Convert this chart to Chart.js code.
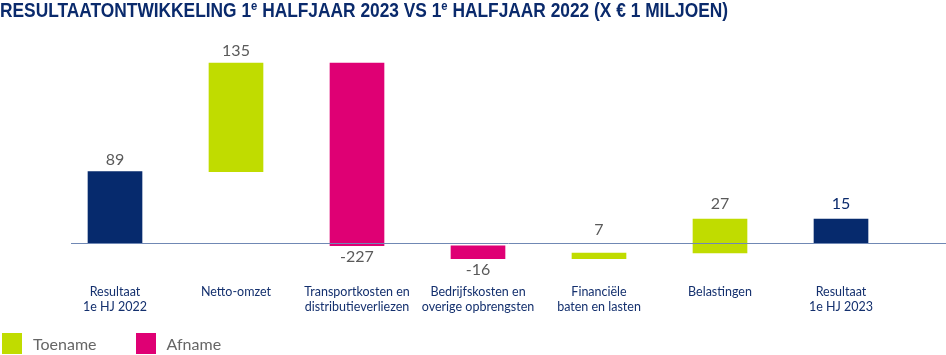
<!DOCTYPE html>
<html>
<head>
<meta charset="utf-8">
<script src="https://cdn.jsdelivr.net/npm/chart.js@4"></script>
<style>
  html, body { margin: 0; padding: 0; background: #fff; }
  #wrap { position: relative; width: 946px; height: 355px; overflow: hidden; }
  #title { position: absolute; left: 0; top: -2px; white-space: nowrap; font-family: "Liberation Sans Narrow", "Liberation Sans", Arial, sans-serif; font-weight: bold; font-size: 20px; color: #0a2a6c; transform-origin: 0 0; line-height: 24px; }
  #title sup { font-size: 13px; vertical-align: 0; position: relative; top: -7px; }
  #legend { position: absolute; left: 2px; top: 333px; font-family: Lato, "Open Sans", sans-serif; font-size: 16px; color: #666; display: flex; }
  .item { display: flex; align-items: center; margin-right: 39px; }
  .box { width: 20px; height: 21px; margin-right: 11px; }
</style>
</head>
<body>
<div id="wrap">
  <canvas id="c" width="946" height="355"></canvas>
  <div id="title">RESULTAATONTWIKKELING 1<sup>e</sup> HALFJAAR 2023 VS 1<sup>e</sup> HALFJAAR 2022 (X € 1 MILJOEN)</div>
  <div id="legend"></div>
</div>
<script>
const categories = [
  ['Resultaat', '1e HJ 2022'],
  'Netto-omzet',
  ['Transportkosten en', 'distributieverliezen'],
  ['Bedrijfskosten en', 'overige opbrengsten'],
  ['Financiële', 'baten en lasten'],
  'Belastingen',
  ['Resultaat', '1e HJ 2023']
];
const barStart = [0, 89, 224, -3, -19, -12, 0];
const barEnd = [89, 224, -3, -19, -12, 30, 30];
const valueLabels = [89, 135, -227, -16, 7, 27, 15];
const barKinds = ['total', 'increase', 'decrease', 'decrease', 'increase', 'increase', 'total'];
const legendNames = ['Toename', 'Afname'];

const colors = { total: '#062a6d', increase: '#c0dc00', decrease: '#df0074' };
const labelOffsets = [12, 12, 11, 11, 23, 15, 15];

// legend (HTML)
const leg = document.getElementById('legend');
[['increase', legendNames[0]], ['decrease', legendNames[1]]].forEach(([k, n]) => {
  const it = document.createElement('div'); it.className = 'item';
  const b = document.createElement('div'); b.className = 'box'; b.style.background = colors[k];
  const t = document.createElement('span'); t.textContent = n;
  it.appendChild(b); it.appendChild(t); leg.appendChild(it);
});

// fit title width
const title = document.getElementById('title');
const tw = title.getBoundingClientRect().width;
title.style.transform = 'scaleX(' + (728 / tw) + ')';

const zeroLine = {
  id: 'zeroLine',
  afterDatasetsDraw(chart) {
    const y = chart.scales.y.getPixelForValue(0);
    const x0 = chart.scales.x.getPixelForValue(0) - 44;
    const ctx = chart.ctx;
    ctx.save();
    ctx.strokeStyle = '#7088b4';
    ctx.lineWidth = 1;
    ctx.beginPath();
    ctx.moveTo(x0, Math.round(y) + 0.5);
    ctx.lineTo(chart.width, Math.round(y) + 0.5);
    ctx.stroke();
    ctx.restore();
  }
};

const valueLabelPlugin = {
  id: 'valueLabels',
  afterDatasetsDraw(chart) {
    const meta = chart.getDatasetMeta(0);
    const ctx = chart.ctx;
    ctx.save();
    ctx.font = '16px Lato, "Open Sans", sans-serif';
    ctx.textAlign = 'center';
    ctx.textBaseline = 'middle';
    meta.data.forEach((el, i) => {
      const top = Math.min(el.y, el.base);
      const bottom = Math.max(el.y, el.base);
      const v = valueLabels[i];
      const y = v >= 0 ? top - labelOffsets[i] : bottom + labelOffsets[i];
      ctx.fillStyle = i === valueLabels.length - 1 ? '#0a2a6c' : '#5a5a5a';
      ctx.fillText(String(v), el.x, y);
    });
    ctx.restore();
  }
};

new Chart(document.getElementById('c'), {
  type: 'bar',
  data: {
    labels: categories,
    datasets: [{
      data: barStart.map((s, i) => [s, barEnd[i]]),
      backgroundColor: barKinds.map(k => colors[k]),
      borderWidth: 0,
      barThickness: 54
    }]
  },
  options: {
    responsive: false,
    animation: false,
    layout: { padding: { top: 34, bottom: 40.5, left: 54.5, right: 44.5 } },
    plugins: { legend: { display: false }, tooltip: { enabled: false } },
    scales: {
      x: {
        grid: { display: false },
        border: { display: false },
        ticks: {
          color: '#14306e',
          font: { family: 'Lato, "Open Sans", sans-serif', size: 12.5, lineHeight: 1.2 },
          padding: 0.5,
          maxRotation: 0,
          autoSkip: false
        }
      },
      y: {
        display: false,
        min: -40,
        max: 260
      }
    }
  },
  plugins: [zeroLine, valueLabelPlugin]
});
</script>
</body>
</html>
